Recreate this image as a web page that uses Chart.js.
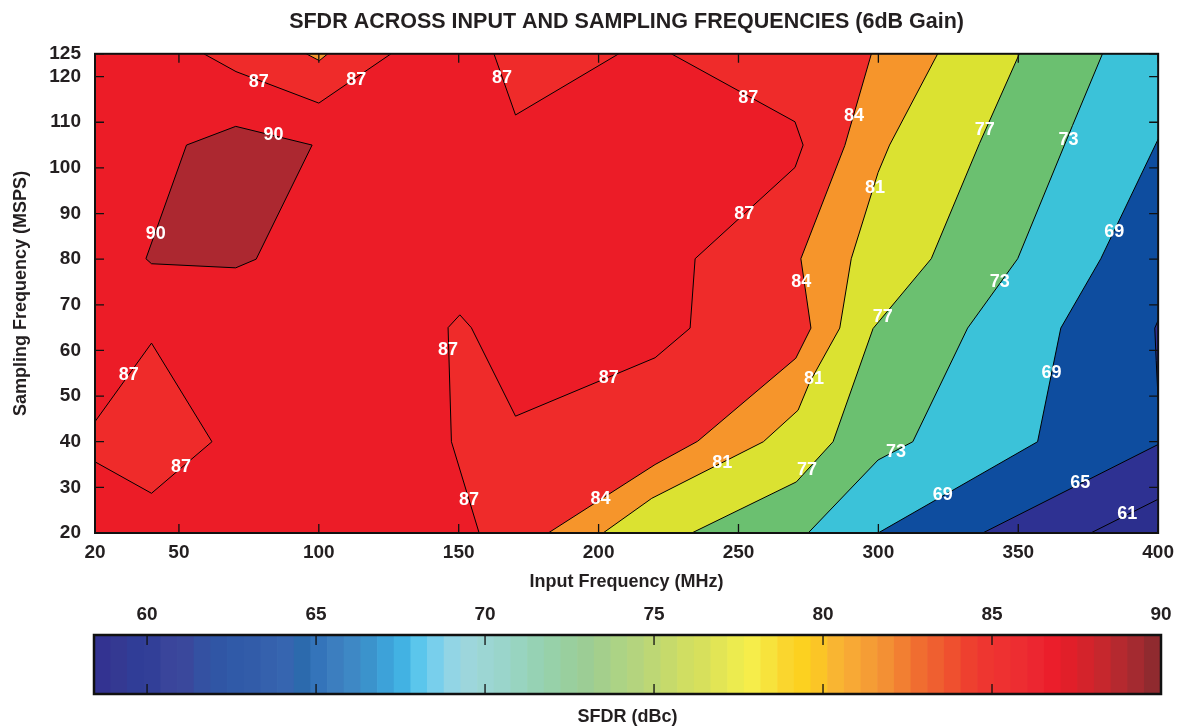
<!DOCTYPE html>
<html>
<head>
<meta charset="utf-8">
<title>SFDR across input and sampling frequencies</title>
<script src="https://cdn.jsdelivr.net/npm/chart.js@4.4.1/dist/chart.umd.min.js"></script>
<style>
    html, body { margin: 0; padding: 0; background: #fff; overflow: hidden; }
    #wrap { position: relative; width: 1182px; height: 727px; }
    #main { position: absolute; left: 0; top: 0; width: 1182px; height: 600px; }
    #bar { position: absolute; left: 0; top: 600px; width: 1182px; height: 127px; }
</style>
</head>
<body>
<div id="wrap">
    <div id="main"><canvas id="sfdr"></canvas></div>
    <div id="bar"><canvas id="scale"></canvas></div>
</div>
<script>
const FONT = "'Liberation Sans', Arial, Helvetica, sans-serif";
const INK = '#231f20';

const xTicks = [20, 50, 100, 150, 200, 250, 300, 350, 400];
const yTicks = [20, 30, 40, 50, 60, 70, 80, 90, 100, 110, 120, 125];
const barTicks = [60, 65, 70, 75, 80, 85, 90];

// contour lines, points are [input MHz, sampling MSPS]
const c61 = [[375.9, 20], [400, 27.4]];
const c65 = [[337.3, 20], [400, 39.4]];
const c65b = [[400, 49.1], [399.3, 57.8], [398.8, 64.9], [400, 66.6]];
const c69 = [[299.9, 20], [356.9, 40], [365.2, 64.9], [379.5, 80.1], [400, 106.3]];
const c73 = [[274.9, 20], [299.9, 36], [312.3, 40], [331.9, 64.9], [349.8, 80.1], [369.4, 109.3], [380.1, 125]];
const c77 = [[233.3, 20], [270.7, 31.2], [283.8, 40], [298.1, 64.8], [318.9, 80.1], [336.1, 105.3], [350.4, 125]];
const c81 = [[201.6, 20], [219, 27.6], [258.9, 40], [271.3, 46.9], [275.5, 53.1], [286.2, 64.9], [290.3, 80.1], [299.9, 99], [304, 105], [321.2, 125]];
const c84 = [[182, 20], [220.2, 35], [235.4, 40.1], [270.5, 58.3], [275.9, 64.9], [272.3, 80.1], [288, 104.9], [297.5, 125]];
const c84b = [[103.2, 125], [100.2, 123.5], [95.5, 125]];
const c87 = [[157.3, 20], [147.4, 40], [146.2, 65], [150.4, 67.8], [154.5, 65], [170.3, 45.6], [220.2, 58.4], [232.7, 64.9], [234.5, 80.1], [270.2, 100.1], [273.1, 105], [270.2, 110.1], [226, 125]];
const c87b = [[207.2, 125], [170.3, 111.6], [162.6, 125]];
const c87c = [[125.8, 125], [100, 114.2], [70.4, 121.1], [58.9, 125]];
const c87d = [[20, 44.4], [40.2, 61.6], [61.8, 40], [40.2, 28.7], [20, 35.6]];
const c90 = [[38.2, 80.1], [40.2, 79], [70.3, 78.1], [77.6, 80], [97.6, 105], [70.3, 109.1], [52.7, 105], [38.2, 80.1]];

// band colours: below 61, then >=61, >=65 ... >=90
const baseColor = '#2c2f8e';
const levels = [61, 65, 69, 73, 77, 81, 84, 87, 90];
const levelColors = ['#2e3192', '#0e4d9f', '#3bc2d9', '#6bc070', '#dbe231', '#f6952b', '#ef2b2a', '#ec1c27', '#ac2830'];

// contour labels
const labelXY = [
    [78.5, 118.9], [113.4, 119.3], [165.5, 119.7], [253.5, 115.3], [291.3, 111.4], [338, 108.2], [368, 106.2],
    [83.8, 107.1], [41.7, 85.6], [298.8, 95.5], [252.1, 90], [384.3, 85.9], [272.4, 74.9], [343.4, 74.9],
    [301.6, 67.3], [146.2, 60], [361.9, 55], [32.1, 54.6], [203.6, 53.9], [277, 53.7], [306.3, 37.7],
    [50.7, 34.4], [244.2, 35.3], [274.5, 33.8], [323, 28.3], [372.2, 30.9], [153.7, 27.2], [200.7, 27.4], [389, 24.2]
];
const labelText = [
    '87', '87', '87', '87', '84', '77', '73',
    '90', '90', '81', '87', '69', '84', '73',
    '77', '87', '69', '87', '87', '81', '73',
    '87', '81', '77', '69', '65', '87', '84', '61'
];

// colour bar stripes, 58.4 .. 90 dBc
const stripeColors = [
    '#333391', '#343992', '#303d97', '#323f98', '#3a459b', '#3a489c', '#3451a2', '#3056a5',
    '#305aa8', '#325ca9', '#3561ad', '#3665b0', '#2c6aad', '#3474ba', '#3c7ebf', '#3e88c5',
    '#3b93cc', '#3da2d9', '#42b2e3', '#5bc6ec', '#78cfec', '#92d5e5', '#9dd6dc', '#9cd6d3',
    '#9ad5cb', '#98d4c0', '#96d2b4', '#97d1a9', '#99cf9e', '#9ccd95', '#a4cf8c', '#acd385',
    '#b4d47e', '#bdd775', '#c6da6b', '#d0de62', '#d7e05c', '#e2e555', '#eceb4f', '#f6ed4a',
    '#f7e33c', '#fad62e', '#fcd120', '#fbc526', '#f9b532', '#f8a935', '#f59d35', '#f39034',
    '#f27f32', '#f06d30', '#ef5f30', '#ef502f', '#ee402f', '#ee3630', '#ee3131', '#ed2d31',
    '#ec2630', '#eb1e2b', '#e11f29', '#d4232b', '#c6272d', '#b5292f', '#a42a30', '#902a2f'
];
const barMin = 58.43;
const barMax = 90;

const corner = {
    tl: [20, 125], tr: [400, 125], bl: [20, 20]
};

// region where SFDR >= level, one polygon per level
const regions = [
    [...c61, corner.tr, corner.tl, corner.bl],
    [...c65, ...c65b, corner.tr, corner.tl, corner.bl],
    [...c69, corner.tr, corner.tl, corner.bl],
    [...c73, corner.tl, corner.bl],
    [...c77, corner.tl, corner.bl],
    [...c81, corner.tl, corner.bl],
    [...c84, ...c84b, corner.tl, corner.bl],
    [...c87, ...c87b, ...c87c, corner.tl, ...c87d, corner.bl],
    c90
];
const contourLines = [c61, c65, c65b, c69, c73, c77, c81, c84, c84b, c87, c87b, c87c, c87d, c90];

const tickFont = { family: FONT, size: 19, weight: 'bold' };
const titleFont = { family: FONT, size: 18, weight: 'bold' };

// fills the bands under the contour lines
const contourFill = {
    id: 'contourFill',
    beforeDatasetsDraw(chart) {
        const { ctx, chartArea: a } = chart;
        ctx.save();
        ctx.beginPath();
        ctx.rect(a.left, a.top, a.width, a.height);
        ctx.clip();
        ctx.fillStyle = baseColor;
        ctx.fillRect(a.left, a.top, a.width, a.height);
        chart.data.datasets.forEach((ds, i) => {
            if (!ds.areaColor) return;
            const pts = chart.getDatasetMeta(i).data;
            ctx.beginPath();
            pts.forEach((p, j) => j ? ctx.lineTo(p.x, p.y) : ctx.moveTo(p.x, p.y));
            ctx.closePath();
            ctx.fillStyle = ds.areaColor;
            ctx.fill();
        });
        ctx.restore();
    }
};

const contourLabels = {
    id: 'contourLabels',
    afterDatasetsDraw(chart) {
        const { ctx } = chart;
        ctx.save();
        ctx.font = 'bold 18px ' + FONT;
        ctx.fillStyle = '#ffffff';
        ctx.textAlign = 'center';
        ctx.textBaseline = 'middle';
        chart.data.datasets.forEach((ds, i) => {
            if (!ds.labelText) return;
            chart.getDatasetMeta(i).data.forEach((p, j) => ctx.fillText(ds.labelText[j], p.x, p.y));
        });
        ctx.restore();
    }
};

// black frame plus inward ticks on every side
const frameTicks = {
    id: 'frameTicks',
    afterDraw(chart, args, opts) {
        const { ctx, chartArea: a } = chart;
        const len = opts.len || 9;
        ctx.save();
        ctx.strokeStyle = '#111';
        ctx.lineWidth = 1.3;
        ctx.beginPath();
        Object.values(chart.scales).forEach(s => {
            if (!s.options.display || s.type === 'category') return;
            s.ticks.forEach(t => {
                const v = s.getPixelForValue(t.value);
                if (s.isHorizontal()) {
                    ctx.moveTo(v, a.top); ctx.lineTo(v, a.top + len);
                    ctx.moveTo(v, a.bottom); ctx.lineTo(v, a.bottom - len);
                } else {
                    ctx.moveTo(a.left, v); ctx.lineTo(a.left + len, v);
                    ctx.moveTo(a.right, v); ctx.lineTo(a.right - len, v);
                }
            });
        });
        ctx.stroke();
        ctx.lineWidth = opts.frame || 2;
        ctx.strokeRect(a.left, a.top, a.width, a.height);
        ctx.restore();
    }
};

const datasets = [];
regions.forEach((pts, i) => datasets.push({
    label: '>= ' + levels[i], data: pts, areaColor: levelColors[i], showLine: false, pointRadius: 0
}));
contourLines.forEach(pts => datasets.push({
    data: pts, showLine: true, borderColor: '#000', borderWidth: 1, pointRadius: 0, fill: false, tension: 0
}));
datasets.push({ data: labelXY, labelText: labelText, showLine: false, pointRadius: 0 });

new Chart(document.getElementById('sfdr'), {
    type: 'scatter',
    data: { datasets },
    options: {
        responsive: true,
        maintainAspectRatio: false,
        animation: false,
        events: [],
        layout: { padding: { left: 0, right: 21, top: 0, bottom: 0 } },
        plugins: {
            legend: { display: false },
            tooltip: { enabled: false },
            title: {
                display: true,
                text: 'SFDR ACROSS INPUT AND SAMPLING FREQUENCIES (6dB Gain)',
                fullSize: false,
                color: INK,
                font: { family: FONT, size: 21.5, weight: 'bold' },
                padding: { top: 9, bottom: 19 }
            },
            frameTicks: { len: 9, frame: 2 }
        },
        scales: {
            x: {
                type: 'linear', min: 20, max: 400,
                afterBuildTicks: s => { s.ticks = xTicks.map(v => ({ value: v })); },
                afterFit: s => { s.height = 67; },
                grid: { display: false, drawTicks: false },
                border: { display: false },
                ticks: { autoSkip: false, maxRotation: 0, padding: 8, color: INK, font: tickFont },
                title: { display: true, text: 'Input Frequency (MHz)', color: INK, font: titleFont, padding: { top: 0, bottom: 7 } }
            },
            y: {
                type: 'linear', min: 20, max: 125,
                afterBuildTicks: s => { s.ticks = yTicks.map(v => ({ value: v })); },
                afterFit: s => { s.width = 95; },
                grid: { display: false, drawTicks: false },
                border: { display: false },
                ticks: { autoSkip: false, padding: 14, color: INK, font: tickFont },
                title: { display: true, text: 'Sampling Frequency (MSPS)', color: INK, font: titleFont, padding: { top: 10, bottom: 0 } }
            }
        }
    },
    plugins: [contourFill, contourLabels, frameTicks]
});

new Chart(document.getElementById('scale'), {
    type: 'bar',
    data: {
        labels: stripeColors.map((c, i) => i),
        datasets: [{
            data: stripeColors.map(() => 1),
            backgroundColor: stripeColors,
            barPercentage: 1,
            categoryPercentage: 1,
            borderWidth: 0
        }]
    },
    options: {
        responsive: true,
        maintainAspectRatio: false,
        animation: false,
        events: [],
        layout: { padding: { left: 94, right: 21, top: 0, bottom: 0 } },
        plugins: {
            legend: { display: false },
            tooltip: { enabled: false },
            frameTicks: { len: 10, frame: 2.5 }
        },
        scales: {
            x: {
                type: 'category',
                afterFit: s => { s.height = 33; },
                grid: { display: false, drawTicks: false },
                border: { display: false },
                ticks: { display: false },
                title: { display: true, text: 'SFDR (dBc)', color: INK, font: titleFont, padding: { top: 0, bottom: -1 } }
            },
            x2: {
                type: 'linear', axis: 'x', position: 'top', offset: false, min: barMin, max: barMax,
                afterBuildTicks: s => { s.ticks = barTicks.map(v => ({ value: v })); },
                afterFit: s => { s.height = 35; },
                grid: { display: false, drawTicks: false },
                border: { display: false },
                ticks: { autoSkip: false, maxRotation: 0, padding: 9, color: INK, font: tickFont }
            },
            y: { display: false, min: 0, max: 1 }
        }
    },
    plugins: [frameTicks]
});
</script>
</body>
</html>
